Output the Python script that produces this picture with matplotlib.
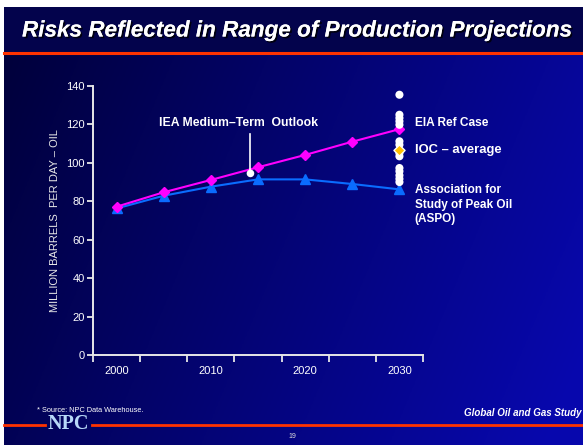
import numpy as np
import matplotlib
matplotlib.use("Agg")
import matplotlib.pyplot as plt
from matplotlib.patches import Rectangle
from matplotlib.lines import Line2D
import matplotlib.patheffects as pe

plt.rcParams['font.family'] = ['Liberation Sans', 'DejaVu Sans']

# ---- data ----
years = [2000, 2005, 2010, 2015, 2020, 2025, 2030]
eia_ref = [77.1, 84.6, 91.0, 97.6, 104.0, 110.9, 117.4]
aspo = [76.2, 82.8, 87.5, 91.3, 91.3, 88.9, 86.1]
other_year = 2030
other_projections = [135.3, 124.9, 123.2, 121.5, 119.7, 111.1, 109.3, 105.0, 103.3,
                     97.2, 95.5, 93.4, 91.6, 89.9]
ioc_average = 106.8
iea_year = 2014.2
iea_value = 94.4
xtick_labels = ['2000', '2010', '2020', '2030']
xtick_years = [2000, 2010, 2020, 2030]
yticks = [0, 20, 40, 60, 80, 100, 120, 140]

W, H = 583, 445
fig = plt.figure(figsize=(W / 100, H / 100), dpi=100)
fig.patch.set_facecolor('white')

# background gradient
bg = fig.add_axes([4 / W, 0, 1 - 4 / W, 1 - 7 / H])
bg.set_axis_off()
nx, ny = 200, 100
gx = np.linspace(0, 1, nx)[None, :]
gy = np.linspace(0, 1, ny)[:, None]
t = np.clip(0.8 * gx + 0.25 * gy, 0, 1)
c0 = np.array([0.0, 0.0, 0.22])
c1 = np.array([0.03, 0.03, 0.68])
img = c0[None, None, :] * (1 - t[..., None]) + c1[None, None, :] * t[..., None]
bg.imshow(img, aspect='auto', extent=[0, 1, 0, 1], origin='upper')
bg.set_xlim(0, 1)
bg.set_ylim(0, 1)

# header band
fig.patches.append(Rectangle((4 / W, 1 - 52 / H), 1, 45 / H, transform=fig.transFigure,
                             facecolor='#03034c', edgecolor='none', zorder=1))
fig.lines.append(Line2D([4 / W, 1], [1 - 52.5 / H, 1 - 52.5 / H], transform=fig.transFigure,
                        color='#ff3300', lw=2.2, zorder=2))
fig.text(297 / W, 1 - 31 / H, 'Risks Reflected in Range of Production Projections',
         color='white', fontsize=16.2, fontweight='bold', fontstyle='italic',
         ha='center', va='center',
         path_effects=[pe.withSimplePatchShadow(offset=(1.2, -1.2), shadow_rgbFace='black', alpha=0.8),
                       pe.Normal()])

# footer
fig.lines.append(Line2D([4 / W, 45 / W], [1 - 425 / H] * 2, transform=fig.transFigure,
                        color='#ff3300', lw=2.0))
fig.lines.append(Line2D([92 / W, 1], [1 - 425 / H] * 2, transform=fig.transFigure,
                        color='#ff3300', lw=2.0))
fig.text(68.5 / W, 1 - 424 / H, 'NPC', color='#b8d8f8', fontsize=14.5, fontweight='bold',
         family=['Liberation Serif', 'DejaVu Serif'], ha='center', va='center')
fig.text(37 / W, 1 - 410 / H, '* Source: NPC Data Warehouse.', color='white', fontsize=5.3,
         ha='left', va='center')
fig.text(582 / W, 1 - 413 / H, 'Global Oil and Gas Study', color='white', fontsize=7.0,
         fontweight='bold', fontstyle='italic', ha='right', va='center')
fig.text(292 / W, 1 - 437 / H, '19', color='#dddddd', fontsize=5, ha='center', va='center')

# main axes
ax = fig.add_axes([93 / W, 1 - 355 / H, 330 / W, (355 - 85.7) / H])
ax.set_facecolor('none')
ax.set_xlim(1997.5, 2032.5)
ax.set_ylim(0, 140)
for s in ['top', 'right']:
    ax.spines[s].set_visible(False)
for s in ['left', 'bottom']:
    ax.spines[s].set_color('#e8e8e8')
    ax.spines[s].set_linewidth(1.4)

ax.set_xticks(np.arange(1997.5, 2033, 5))
ax.set_xticklabels([])
ax.set_xticks(xtick_years, minor=True)
ax.set_xticklabels(xtick_labels, minor=True)
ax.tick_params(axis='x', which='major', direction='out', length=5, width=1.3, color='#e8e8e8')
ax.tick_params(axis='x', which='minor', length=0, pad=8, labelsize=8, labelcolor='white')
ax.set_yticks(yticks)
ax.tick_params(axis='y', direction='out', length=4, width=1.3, color='#e8e8e8',
               labelsize=8, labelcolor='white', pad=2)
ax.set_ylabel('MILLION BARRELS  PER DAY \u2013 OIL', color='#e8e8e8', fontsize=8, labelpad=4)

ax.plot(years, eia_ref, color='#ff00ff', lw=1.5, marker='D', ms=5, mec='#ff00ff',
        mfc='#ff00ff', zorder=4)
ax.plot(years, aspo, color='#0a6cff', lw=1.5, marker='^', ms=6.5, mec='#0a6cff',
        mfc='#0a6cff', zorder=3)
ax.scatter([other_year] * len(other_projections), other_projections, s=34, color='white',
           edgecolors='none', zorder=5)
ax.scatter([other_year], [ioc_average], s=32, marker='D', color='#ffc000',
           edgecolors='white', linewidths=1.0, zorder=6)

# IEA point and label
ax.plot([iea_year, iea_year], [iea_value, 115], color='white', lw=1.2, zorder=5)
ax.scatter([iea_year], [iea_value], s=30, color='white', edgecolors='none', zorder=6)
ax.text(2012.9, 120.5, 'IEA Medium\u2013Term  Outlook', color='white', fontsize=8.8,
        fontweight='bold', ha='center', va='center')

ax.text(2031.6, 120.5, 'EIA Ref Case', color='white', fontsize=8.6, fontweight='bold',
        ha='left', va='center', clip_on=False)
ax.text(2031.6, 106.5, 'IOC \u2013 average', color='white', fontsize=9.4, fontweight='bold',
        ha='left', va='center', clip_on=False)
ax.text(2031.6, 89, 'Association for\nStudy of Peak Oil\n(ASPO)', color='white', fontsize=8.5,
        fontweight='bold', ha='left', va='top', linespacing=1.3, clip_on=False)

fig.savefig('out.png', dpi=100, facecolor=fig.get_facecolor())
